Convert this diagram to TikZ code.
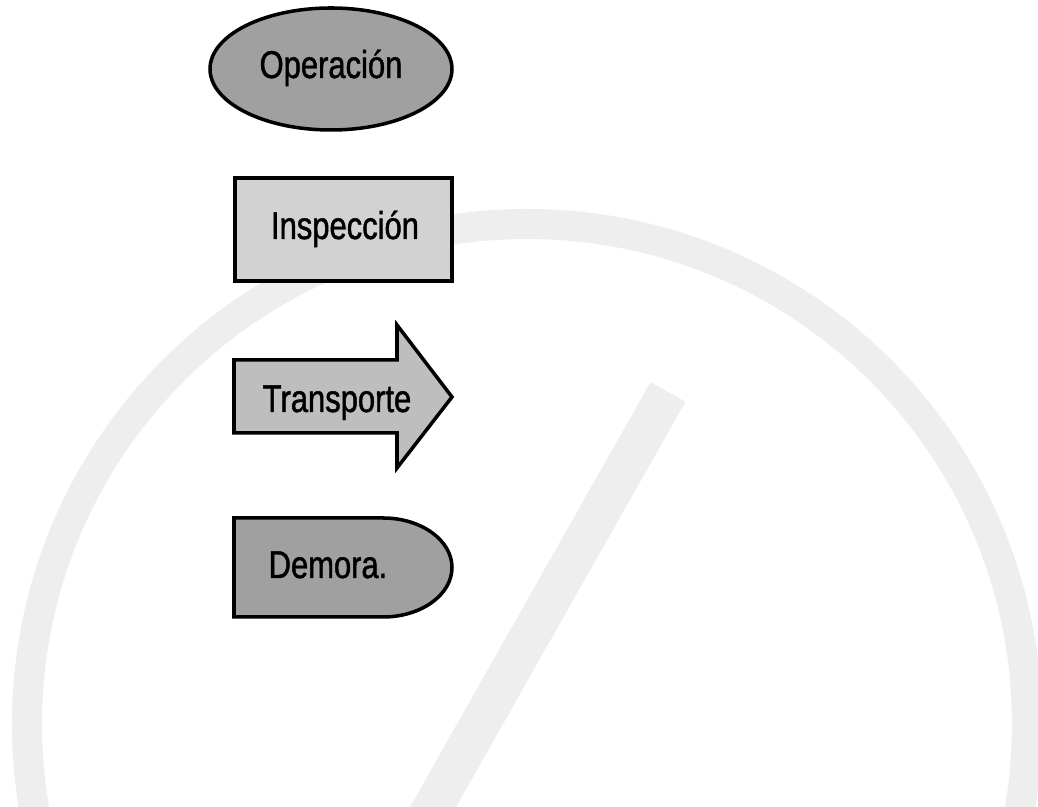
\documentclass[tikz,border=0pt]{standalone}
\usepackage{fontspec}
\setmainfont{Liberation Sans}[FakeStretch=0.8,FakeBold=1.2]
\usepackage{tikz}
\definecolor{opfill}{RGB}{160,160,160}
\definecolor{infill}{RGB}{210,210,210}
\definecolor{trfill}{RGB}{190,190,190}
\definecolor{wmark}{RGB}{238,238,238}
\tikzset{sym/.style={draw=black,line width=1pt},
  lbl/.style={anchor=base,inner sep=0pt,font=\fontsize{11}{13}\selectfont}}
\def\Arrow#1{\draw [sym,fill=trfill] (#1,360) -- (397,360) -- (397,325) -- (452,397) -- (397,468) -- (397,433) -- (#1,433) -- cycle;}

\begin{document}
\begin{tikzpicture}[x=0.01cm,y=-0.01cm]
\useasboundingbox (0,0) rectangle (1038,807);
\fill[white] (0,0) rectangle (1038,807);
% watermark behind the symbols
\begin{scope}
  \clip (0,0) rectangle (1038,807);
  \draw[wmark,line width=0.3cm] (527,724) circle [radius=500];
  \draw[wmark,line width=0.4cm] (668,392) -- (420,830);
\end{scope}
\draw[sym,fill=opfill] (331,69) ellipse [x radius=121, y radius=61];
\node[lbl] (oper) at (331,78) {Operación};
\draw[sym,fill=infill] (235,178) rectangle (452,281);
\node[lbl] (insp) at (345,239) {Inspección};
\Arrow{234}
\node[lbl] (trans) at (337,412) {Transporte};
\draw[sym,fill=opfill] (234,518) -- (383,518) arc [start angle=-90, end angle=90, x radius=69, y radius=49.5] -- (234,617) -- cycle;
\node[lbl] (demora) at (328,578) {Demora.};
\end{tikzpicture}
\end{document}
